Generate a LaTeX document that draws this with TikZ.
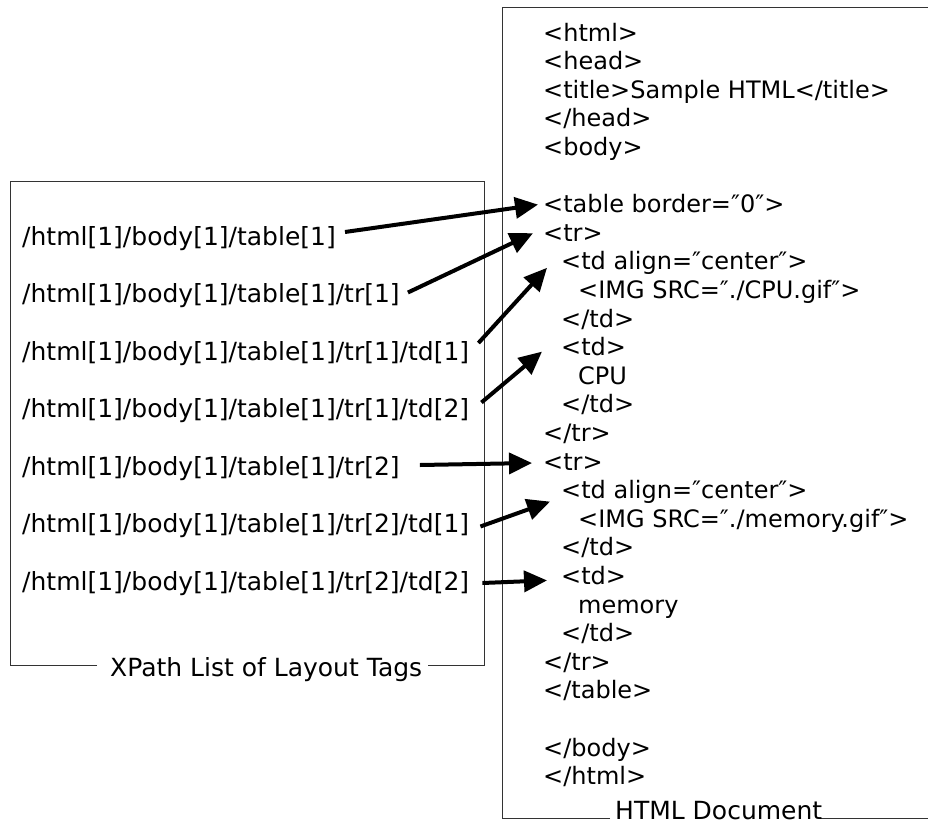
\documentclass[tikz,border=0pt]{standalone}
\usepackage{fontspec}
\setmainfont{DejaVu Sans}
\usetikzlibrary{arrows.meta}
\begin{document}
\begin{tikzpicture}[x=1pt,y=-1pt,
  frame/.style={line width=1pt, draw=black!80},
  xp/.style={anchor=base west, inner sep=0pt, font=\fontsize{25}{30}\selectfont},
  src/.style={anchor=base west, inner sep=0pt, font=\fontsize{24}{28}\selectfont},
  caption/.style={anchor=base west, inner sep=0pt, font=\fontsize{25}{30}\selectfont},
  ptr/.style={line width=4pt, -{Triangle[length=23pt,width=21pt]}}]

\useasboundingbox (0,0) rectangle (928,827);

% left frame: XPath list
\draw[frame] (97,665) -| (10,181) -| (484,665) -- (428,665);
\node[caption] (lcap) at (110,676) {XPath List of Layout Tags};

% right frame: HTML source (open on the right)
\draw[frame] (610,818) -| (502,7) -- (928,7);
\draw[frame] (820,818) -- (928,818);
\node[caption] (rcap) at (615,819) {HTML Document};

% XPath entries
\node[xp] (p1) at (22,245)   {/html[1]/body[1]/table[1]};
\node[xp] (p2) at (22,302.5) {/html[1]/body[1]/table[1]/tr[1]};
\node[xp] (p3) at (22,360)   {/html[1]/body[1]/table[1]/tr[1]/td[1]};
\node[xp] (p4) at (22,417.5) {/html[1]/body[1]/table[1]/tr[1]/td[2]};
\node[xp] (p5) at (22,475)   {/html[1]/body[1]/table[1]/tr[2]};
\node[xp] (p6) at (22,532.5) {/html[1]/body[1]/table[1]/tr[2]/td[1]};
\node[xp] (p7) at (22,590)   {/html[1]/body[1]/table[1]/tr[2]/td[2]};

% HTML source lines
\node[src] (h0)  at (543,41)    {<html>};
\node[src] (h1)  at (543,69.6)  {<head>};
\node[src] (h2)  at (543,98.2)  {<title>Sample HTML</title>};
\node[src] (h3)  at (543,126.8) {</head>};
\node[src] (h4)  at (543,155.4) {<body>};
\node[src] (h6)  at (543,212.6) {<table border=″0″>};
\node[src] (h7)  at (543,241.2) {<tr>};
\node[src] (h8)  at (561,269.8) {<td align=″center″>};
\node[src] (h9)  at (578,298.4) {<IMG SRC=″./CPU.gif″>};
\node[src] (h10) at (561,327)   {</td>};
\node[src] (h11) at (561,355.6) {<td>};
\node[src] (h12) at (578,384.2) {CPU};
\node[src] (h13) at (561,412.8) {</td>};
\node[src] (h14) at (543,441.4) {</tr>};
\node[src] (h15) at (543,470)   {<tr>};
\node[src] (h16) at (561,498.6) {<td align=″center″>};
\node[src] (h17) at (578,527.2) {<IMG SRC=″./memory.gif″>};
\node[src] (h18) at (561,555.8) {</td>};
\node[src] (h19) at (561,584.4) {<td>};
\node[src] (h20) at (578,613)   {memory};
\node[src] (h21) at (561,641.6) {</td>};
\node[src] (h22) at (543,670.2) {</tr>};
\node[src] (h23) at (543,698.8) {</table>};
\node[src] (h25) at (543,756)   {</body>};
\node[src] (h26) at (543,784.6) {</html>};

% pointers from each XPath to its tag
\draw[ptr] ([xshift=9pt,yshift=13pt]p1.base east) -- ([xshift=-5pt,yshift=8pt]h6.base west);
\draw[ptr] ([xshift=8pt,yshift=10pt]p2.base east) -- ([xshift=-10pt,yshift=8pt]h7.base west);
\draw[ptr] ([xshift=9pt,yshift=17pt]p3.base east) -- ([xshift=-14pt,yshift=2pt]h8.base west);
\draw[ptr] ([xshift=12pt,yshift=15pt]p4.base east) -- ([xshift=-19pt,yshift=4pt]h11.base west);
\draw[ptr] ([xshift=20pt,yshift=10pt]p5.base east) -- ([xshift=-11pt,yshift=7pt]h15.base west);
\draw[ptr] ([xshift=11pt,yshift=6pt]p6.base east) -- ([xshift=-11pt,yshift=-3pt]h16.base west);
\draw[ptr] ([xshift=13pt,yshift=7pt]p7.base east) -- ([xshift=-14pt,yshift=4pt]h19.base west);
\end{tikzpicture}
\end{document}
